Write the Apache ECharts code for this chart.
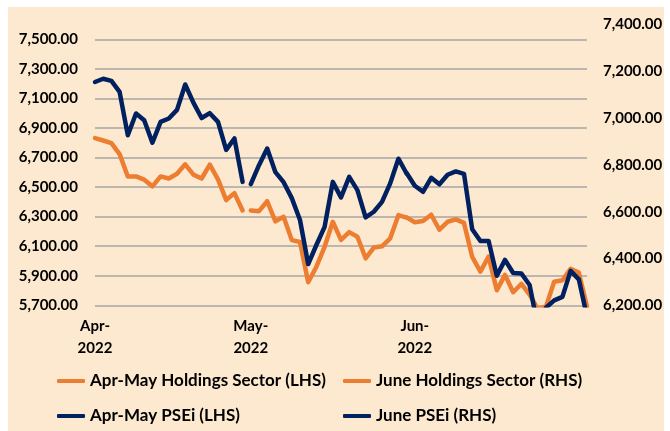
<!DOCTYPE html>
<html>
<head>
<meta charset="utf-8">
<script src="https://cdn.jsdelivr.net/npm/echarts@6/dist/echarts.min.js"></script>
<style>
  html, body { margin: 0; padding: 0; background: #fff; }
  #bg { position: absolute; left: 8px; top: 7px; width: 656px; height: 424px; background: #FCE9CF; }
  #chart { position: absolute; left: 0; top: 0; width: 670px; height: 431px; }
</style>
</head>
<body>
<div id="bg"></div>
<div id="chart"></div>
<script>
// trading days per month (2022)
const MONTHS = ['Apr', 'May', 'Jun'];
const APR_DAYS = [1, 4, 5, 6, 7, 8, 11, 12, 13, 18, 19, 20, 21, 22, 25, 26, 27, 28, 29];
const MAY_DAYS = [3, 4, 5, 6, 10, 11, 12, 13, 16, 17, 18, 19, 20, 23, 24, 25, 26, 27, 30, 31];
const JUN_DAYS = [1, 2, 3, 6, 7, 8, 9, 10, 13, 14, 15, 16, 17, 20, 21, 22, 23, 24, 27, 28, 29, 30];

// Holdings sector index
const HOLDINGS_APR = [6831, 6815, 6797, 6723, 6572, 6572, 6550, 6505, 6572, 6558, 6590, 6654, 6584, 6558, 6652, 6552, 6412, 6459, 6342];
const HOLDINGS_MAY = [6342, 6337, 6404, 6268, 6299, 6141, 6128, 5856, 5961, 6096, 6265, 6143, 6195, 6164, 6018, 6091, 6099, 6153, 6310, 6293];
// first value = May 31 on the right axis, so the June line joins the May line
const HOLDINGS_JUN = [6576, 6555, 6560, 6587, 6523, 6557, 6567, 6552, 6407, 6344, 6408, 6264, 6330, 6256, 6292, 6246, 6185, 6195, 6301, 6307, 6356, 6340, 6195];

// PSEi
const PSEI_APR = [7211, 7233, 7219, 7144, 6851, 6998, 6952, 6800, 6941, 6964, 7022, 7194, 7071, 6967, 7000, 6941, 6752, 6829, 6535];
const PSEI_MAY = [6520, 6648, 6761, 6601, 6533, 6425, 6277, 5979, 6108, 6231, 6535, 6430, 6569, 6479, 6295, 6333, 6400, 6525, 6692, 6592];
const PSEI_JUN = [6765, 6711, 6685, 6745, 6717, 6758, 6772, 6762, 6525, 6475, 6475, 6326, 6394, 6338, 6336, 6287, 6110, 6190, 6221, 6236, 6347, 6311, 6152];

const ORANGE = '#ED7D31';
const NAVY = '#002060';
const FONT = 'Lato';

const dayLists = [APR_DAYS, MAY_DAYS, JUN_DAYS];
const categories = [];
const monthStart = {};
dayLists.forEach((days, k) => {
  monthStart[categories.length] = MONTHS[k];
  days.forEach(d => categories.push(MONTHS[k] + ' ' + d));
});
const N = categories.length;
const mayIdx = APR_DAYS.length;
const junIdx = APR_DAYS.length + MAY_DAYS.length - 1;

function pad(arr, start) {
  const out = new Array(N).fill(null);
  arr.forEach((v, i) => { out[start + i] = v; });
  return out;
}

function line(name, color, axis, data) {
  return {
    name: name,
    type: 'line',
    yAxisIndex: axis,
    data: data,
    symbol: 'none',
    showSymbol: false,
    connectNulls: false,
    color: color,
    lineStyle: { color: color, width: 4.5, cap: 'round', join: 'round' },
    animation: false
  };
}

const fmt = v => v.toLocaleString('en-US', { minimumFractionDigits: 2, maximumFractionDigits: 2 });
const labelStyle = { fontFamily: FONT, fontWeight: 'bold', fontSize: 15, color: '#000' };
const legendBase = {
  orient: 'vertical',
  top: 371,
  padding: 0,
  itemWidth: 28,
  itemHeight: 4,
  itemGap: 15,
  icon: 'roundRect',
  selectedMode: false,
  textStyle: { fontFamily: FONT, fontWeight: 'bold', fontSize: 17, color: '#000', lineHeight: 20 }
};

const chart = echarts.init(document.getElementById('chart'));
chart.setOption({
  backgroundColor: 'transparent',
  animation: false,
  grid: { left: 95, right: 83, top: 24.5, bottom: 125.7 },
  legend: [
    Object.assign({}, legendBase, { left: 57, data: ['Apr-May Holdings Sector (LHS)', 'Apr-May PSEi (LHS)'] }),
    Object.assign({}, legendBase, { left: 343, data: ['June Holdings Sector (RHS)', 'June PSEi (RHS)'] })
  ],
  xAxis: {
    type: 'category',
    data: categories,
    boundaryGap: false,
    axisLine: { show: false },
    axisTick: { show: false },
    splitLine: { show: false },
    axisLabel: Object.assign({}, labelStyle, {
      interval: idx => monthStart[idx] !== undefined,
      formatter: (v, idx) => monthStart[idx] + '-\n2022',
      lineHeight: 22,
      margin: 10
    })
  },
  yAxis: [
    {
      type: 'value',
      min: 5700,
      max: 7600,
      interval: 200,
      axisLine: { show: false },
      axisTick: { show: false },
      axisLabel: Object.assign({}, labelStyle, { formatter: fmt, margin: 17, showMaxLabel: false }),
      splitLine: { show: true, showMaxLine: false, lineStyle: { color: '#A6A6A6', width: 1.5 } }
    },
    {
      type: 'value',
      position: 'right',
      min: 6200,
      max: 7400,
      interval: 200,
      axisLine: { show: false },
      axisTick: { show: false },
      axisLabel: Object.assign({}, labelStyle, { formatter: fmt, margin: 16 }),
      splitLine: { show: false }
    }
  ],
  series: [
    line('Apr-May Holdings Sector (LHS)', ORANGE, 0, pad(HOLDINGS_APR, 0)),
    line('Apr-May Holdings Sector (LHS)', ORANGE, 0, pad(HOLDINGS_MAY, mayIdx)),
    line('June Holdings Sector (RHS)', ORANGE, 1, pad(HOLDINGS_JUN, junIdx)),
    line('Apr-May PSEi (LHS)', NAVY, 0, pad(PSEI_APR, 0)),
    line('Apr-May PSEi (LHS)', NAVY, 0, pad(PSEI_MAY, mayIdx)),
    line('June PSEi (RHS)', NAVY, 1, pad(PSEI_JUN, junIdx))
  ]
});
window.addEventListener('resize', () => chart.resize());
</script>
</body>
</html>
